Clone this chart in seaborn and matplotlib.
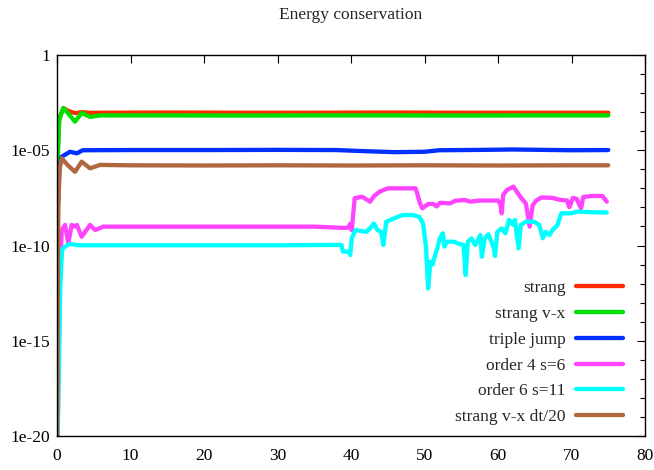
import numpy as np
import pandas as pd
import matplotlib
matplotlib.use("Agg")
import matplotlib.pyplot as plt
import matplotlib.ticker as ticker
import seaborn as sns

# values, stored as log10 of the energy error
names = ['strang', 'strang v-x', 'triple jump', 'order 4 s=6', 'order 6 s=11', 'strang v-x dt/20']
colors = ['#ff2a00', '#00e000', '#0030ff', '#ff44ff', '#00ffff', '#b0683f']

t_strang = [0.0, 0.05, 0.3, 0.9, 1.6, 2.5, 3.4, 4.5, 6, 15, 25, 35, 45, 55, 65, 75]
e_strang = [-22, -5.5, -3.3, -2.8, -2.95, -3.05, -3.0, -3.04, -3.03, -3.02, -3.03, -3.03, -3.02, -3.03, -3.03, -3.03]

t_vx = [0.0, 0.05, 0.3, 0.86, 1.6, 2.45, 3.36, 4.5, 5.9, 15, 25, 35, 45, 55, 65, 75]
e_vx = [-22, -6, -3.4, -2.78, -3.1, -3.5, -3.04, -3.25, -3.17, -3.17, -3.18, -3.17, -3.17, -3.18, -3.17, -3.17]

t_triple = [0, 0.12, 0.35, 0.64, 1.77, 2.7, 3.5, 10, 20, 30, 38, 42, 46, 50, 52, 58, 62, 66, 70, 75]
e_triple = [-22, -8, -5.8, -5.34, -5.08, -5.16, -5.0, -4.99, -4.99, -4.98, -4.99, -5.05, -5.1, -5.08, -5.0,
            -4.98, -4.96, -4.98, -5.0, -4.99]

t_o4 = [0, 0.4, 0.64, 1.09, 1.54, 2.0, 2.45, 2.7, 3.36, 4.5, 5.2, 6.3, 15, 25, 35, 38.7, 39.6, 39.9, 40.1,
        40.5, 41.5, 42.6, 43.1, 43.9, 45, 48.8, 49.4, 49.7, 50.5, 51.2, 51.65, 52.1, 53.5, 54.2, 55.5,
        56.2, 57.5, 60.0, 60.3, 60.5, 60.7, 61.2, 62.1, 62.6, 63.1, 63.8, 64.3, 64.7, 65.2, 65.9, 67.4,
        68.4, 69.4, 69.7, 70.2, 70.7, 71.3, 71.6, 72.8, 74.2, 74.8]
e_o4 = [-22, -12, -9.19, -8.92, -9.87, -8.92, -9.0, -8.92, -9.54, -8.92, -9.19, -9.01, -9.01, -9.01, -9.01,
        -9.07, -9.07, -8.86, -9.19, -7.52, -7.44, -7.7, -7.42, -7.17, -7.0, -7.0, -7.79, -8.05, -7.82,
        -7.82, -7.95, -7.76, -7.79, -7.65, -7.61, -7.7, -7.64, -7.64, -7.81, -8.31, -7.35, -7.09, -6.91,
        -7.2, -7.48, -7.8, -9.01, -7.9, -7.64, -7.48, -7.5, -7.6, -7.64, -7.99, -7.5, -7.55, -8.05,
        -7.45, -7.4, -7.4, -7.7]

t_o6 = [0, 0.45, 0.7, 1.09, 1.77, 3, 10, 20, 30, 37.3, 38.7, 38.9, 39.6, 39.9, 40.1, 40.6, 42.1, 42.6,
        43.1, 43.6, 44.1, 44.4, 44.8, 45.9, 47, 48.4, 49.3, 49.8, 50.2, 50.5, 50.8, 51.1, 51.3, 51.8,
        52.1, 52.5, 52.7, 53.1, 54.0, 54.6, 55.3, 55.6, 55.9, 56.4, 56.9, 57.6, 57.8, 58.2, 58.7, 59.4,
        59.6, 59.9, 60.5, 61.0, 61.5, 62.1, 62.3, 62.8, 63.1, 63.8, 64.9, 65.6, 66.1, 66.5, 67.0, 67.4,
        68.1, 68.6, 69.9, 70.8, 72.5, 74.8]
e_o6 = [-22, -12, -10.2, -10.06, -9.92, -9.99, -9.99, -9.99, -9.99, -9.97, -9.97, -10.32, -10.32, -10.5,
        -9.62, -9.19, -9.28, -9.1, -8.84, -9.19, -9.28, -9.97, -8.75, -8.57, -8.4, -8.4, -8.5, -8.84,
        -10.06, -12.25, -10.85, -11.0, -10.7, -10.06, -9.62, -9.36, -10.06, -9.8, -9.8, -9.9, -9.97,
        -11.55, -9.8, -9.63, -9.97, -9.45, -10.59, -9.63, -9.41, -10.1, -10.55, -9.3, -9.1, -9.36,
        -8.66, -8.92, -8.66, -10.15, -8.92, -8.75, -8.75, -8.92, -9.62, -9.28, -9.45, -9.2, -8.92,
        -8.31, -8.31, -8.22, -8.25, -8.27]

t_vx20 = [0, 0.18, 0.35, 0.64, 1.5, 2.45, 3.36, 4.5, 5.85, 10, 20, 30, 40, 50, 60, 70, 75]
e_vx20 = [-22, -8, -6.0, -5.42, -5.8, -6.13, -5.6, -5.95, -5.77, -5.79, -5.8, -5.79, -5.8, -5.79, -5.8,
          -5.79, -5.79]

y_ticks = [1, 1e-05, 1e-10, 1e-15, 1e-20]
y_tick_labels = ['1', '1e-05', '1e-10', '1e-15', '1e-20']

series = [(t_strang, e_strang), (t_vx, e_vx), (t_triple, e_triple),
          (t_o4, e_o4), (t_o6, e_o6), (t_vx20, e_vx20)]
df = pd.concat([pd.DataFrame({'t': t, 'energy': 10.0 ** np.array(e, dtype=float), 'method': n})
                for n, (t, e) in zip(names, series)], ignore_index=True)

sns.set_theme(style="white")
plt.rcParams['font.family'] = ['Liberation Serif', 'DejaVu Serif']
fs = 12.5

fig = plt.figure(figsize=(6.54, 4.70), dpi=100)
ax = fig.add_axes([57 / 654, 34 / 470, 588 / 654, 381 / 470])

sns.lineplot(data=df, x='t', y='energy', hue='method', hue_order=names,
             palette=dict(zip(names, colors)), estimator=None, sort=False,
             linewidth=3.1, legend=False, ax=ax)

ax.set_yscale('log')
ax.set_xlim(0, 80)
ax.set_ylim(1e-20, 1)
ax.set_xticks(range(0, 81, 10))
ax.yaxis.set_major_locator(ticker.FixedLocator(y_ticks))
ax.yaxis.set_major_formatter(ticker.FixedFormatter(y_tick_labels))
ax.yaxis.set_minor_locator(ticker.FixedLocator([10.0 ** -k for k in range(21)]))
ax.yaxis.set_minor_formatter(ticker.NullFormatter())
ax.tick_params(which='both', direction='in', top=True, right=True, colors='black',
               labelsize=fs)
ax.tick_params(which='major', length=6, width=0.8)
ax.tick_params(which='minor', length=3.5, width=0.8)
ax.tick_params(axis='x', pad=9)
ax.tick_params(axis='y', pad=5)
for s in ax.spines.values():
    s.set_color('black')
    s.set_linewidth(1.0)

ax.set_xlabel('')
ax.set_ylabel('')
ax.set_title('Energy conservation', fontsize=fs, pad=26)

ax.legend(ax.lines, names, loc='lower right', bbox_to_anchor=(566 / 588, 11 / 381),
          frameon=False, markerfirst=False, handlelength=2.7, handletextpad=0.6,
          labelspacing=0.55, borderpad=0, borderaxespad=0, fontsize=fs)

fig.savefig('out.png', dpi=100)
